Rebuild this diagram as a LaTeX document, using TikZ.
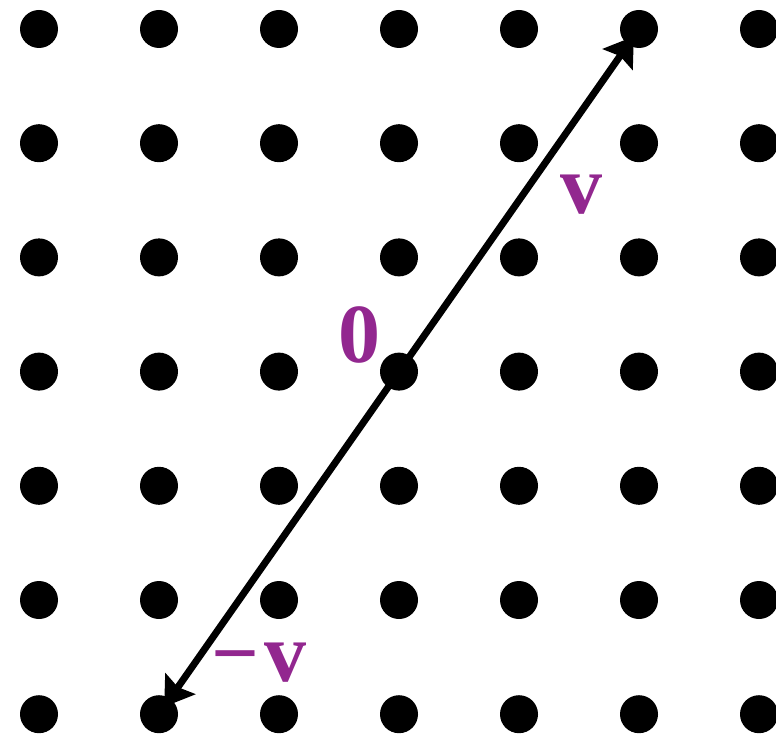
\documentclass[tikz,border=0pt]{standalone}
\usepackage{fontspec}
\setmainfont{Liberation Serif}
\usetikzlibrary{arrows.meta}
\definecolor{vpurple}{HTML}{92278F}
\tikzset{
  dot/.style={circle,fill=black,minimum size=38pt,inner sep=0pt},
  vec/.style={line width=7pt,shorten >=9pt,-{Stealth[length=28pt,width=36pt,inset=4pt]}},
  lbl/.style={text=vpurple,inner sep=0pt,font=\bfseries\fontsize{84}{84}\selectfont}
}
\begin{document}
\begin{tikzpicture}[x=1pt,y=-1pt]
\useasboundingbox (0,0) rectangle (776,735);
\foreach \i in {0,...,6}{
  \foreach \j in {0,...,6}{
    \node[dot] (d-\i-\j) at ({39+120*\i},{29+114.2*\j}) {};
  }
}
\draw[vec] (d-3-3.center) -- (d-5-0.center);
\draw[vec] (d-3-3.center) -- (d-1-6.center);
\node[lbl] (lv) at (581,195) {v};
\node[lbl] (l0) at (359,335) {0};
\node[lbl] (lmv) at (259,663) {−\kern5pt v};
\end{tikzpicture}
\end{document}
